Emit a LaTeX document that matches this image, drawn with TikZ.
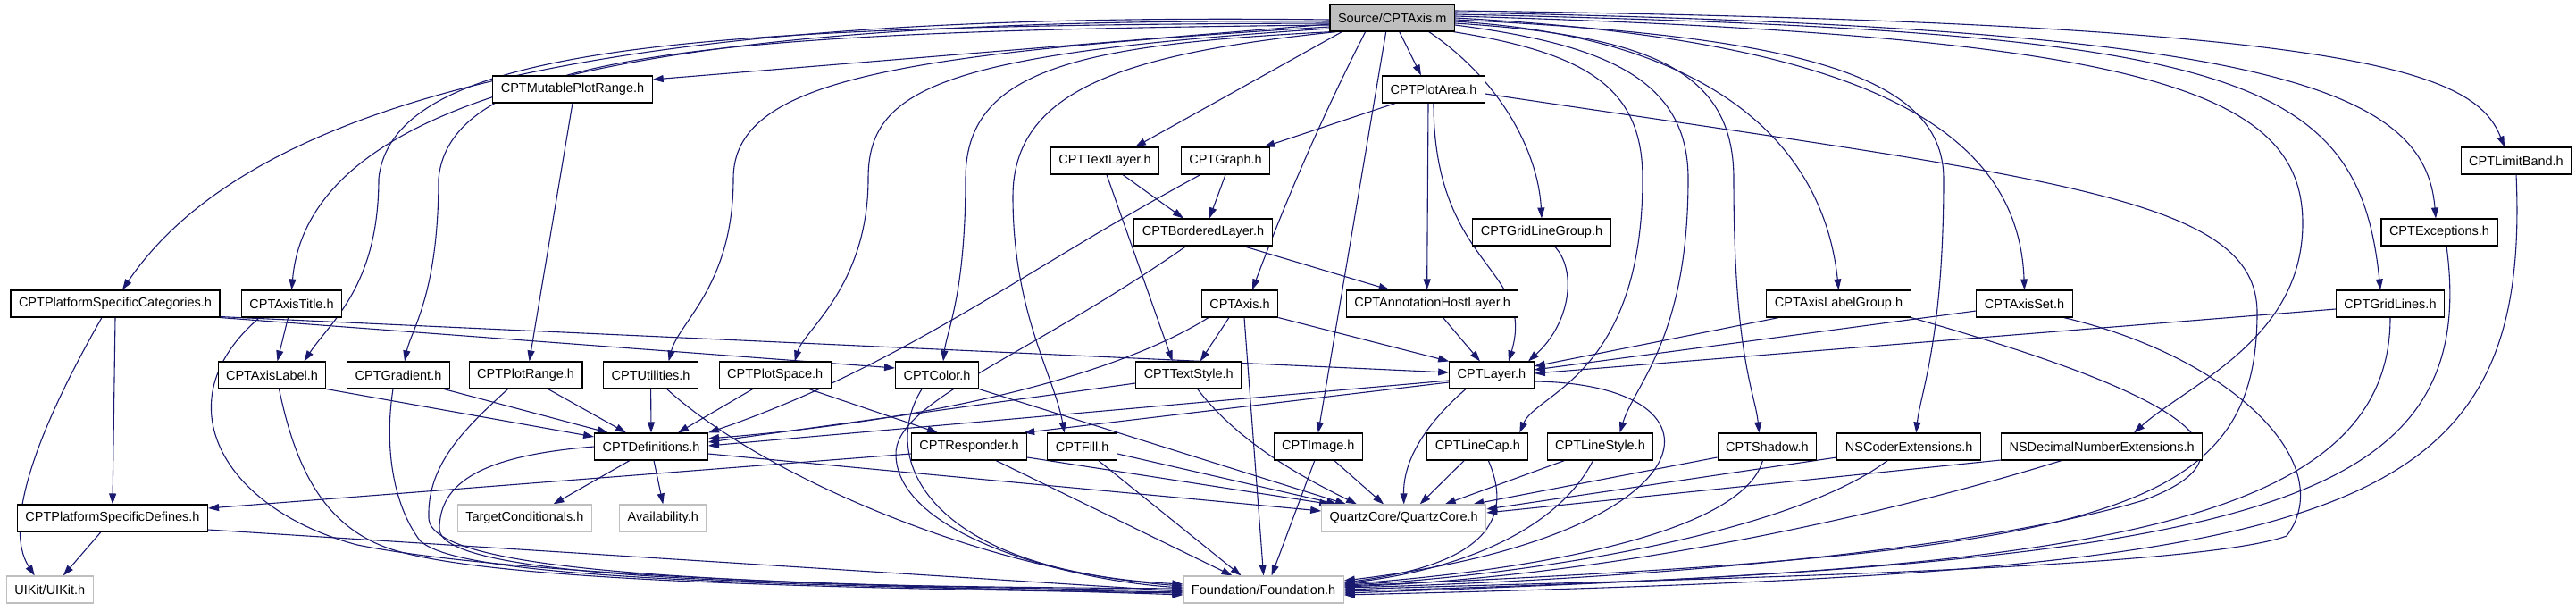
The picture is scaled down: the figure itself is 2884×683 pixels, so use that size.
\documentclass[tikz,border=0pt]{standalone}
\usepackage{fontspec}
\setmainfont{Liberation Sans}
\usetikzlibrary{arrows.meta}
\definecolor{edgeblue}{HTML}{191970}
\definecolor{srcgray}{HTML}{BFBFBF}
\pgfdeclarelayer{edges}
\pgfsetlayers{edges,main}
\tikzset{
  file/.style={draw=black, fill=white, line width=1.1pt, minimum height=30pt,
    inner xsep=9pt, inner ysep=0pt, font=\fontsize{14.5}{17}\selectfont},
  sysfile/.style={file, draw=srcgray},
  srcfile/.style={file, fill=srcgray},
  inc/.style={draw=edgeblue, line width=1.1pt, -{Triangle[length=12pt,width=8pt]}},
}
\begin{document}
\begin{tikzpicture}[x=1pt, y=-1pt]
\useasboundingbox (0,0) rectangle (2884,683);

\node[srcfile] (src) at (1558.7,20) {Source/CPTAxis.m};

\node[file] (mutrange) at (641,100) {CPTMutablePlotRange.h};
\node[file] (plotarea) at (1605,100) {CPTPlotArea.h};

\node[file] (textlayer) at (1237,180) {CPTTextLayer.h};
\node[file] (graph) at (1372,180) {CPTGraph.h};
\node[file] (limitband) at (2817,180) {CPTLimitBand.h};

\node[file] (bordered) at (1347,260) {CPTBorderedLayer.h};
\node[file] (gridlinegroup) at (1726,260) {CPTGridLineGroup.h};
\node[file] (exceptions) at (2731,260) {CPTExceptions.h};

\node[file] (platcat) at (129,340) {CPTPlatformSpecificCategories.h};
\node[file] (axistitle) at (326.5,340) {CPTAxisTitle.h};
\node[file] (axis) at (1388,340) {CPTAxis.h};
\node[file] (annot) at (1603.6,340) {CPTAnnotationHostLayer.h};
\node[file] (labelgroup) at (2058.5,340) {CPTAxisLabelGroup.h};
\node[file] (axisset) at (2266.5,340) {CPTAxisSet.h};
\node[file] (gridlines) at (2676,340) {CPTGridLines.h};

\node[file] (axislabel) at (304.5,420) {CPTAxisLabel.h};
\node[file] (gradient) at (446,420) {CPTGradient.h};
\node[file] (plotrange) at (588.6,420) {CPTPlotRange.h};
\node[file] (utilities) at (728.6,420) {CPTUtilities.h};
\node[file] (plotspace) at (867.7,420) {CPTPlotSpace.h};
\node[file] (color) at (1049,420) {CPTColor.h};
\node[file] (textstyle) at (1330.7,420) {CPTTextStyle.h};
\node[file] (layer) at (1670,420) {CPTLayer.h};

\node[file] (defs) at (729,500) {CPTDefinitions.h};
\node[file] (responder) at (1085,500) {CPTResponder.h};
\node[file] (fill) at (1211.7,500) {CPTFill.h};
\node[file] (image) at (1475.8,500) {CPTImage.h};
\node[file] (linecap) at (1654.3,500) {CPTLineCap.h};
\node[file] (linestyle) at (1791.5,500) {CPTLineStyle.h};
\node[file] (shadow) at (1978.4,500) {CPTShadow.h};
\node[file] (nscoder) at (2137.2,500) {NSCoderExtensions.h};
\node[file] (nsdecimal) at (2353.1,500) {NSDecimalNumberExtensions.h};

\node[file] (platdefs) at (126,580) {CPTPlatformSpecificDefines.h};
\node[sysfile] (target) at (587.4,580) {TargetConditionals.h};
\node[sysfile] (avail) at (742.3,580) {Availability.h};
\node[sysfile] (quartz) at (1571.7,580) {QuartzCore/QuartzCore.h};

\node[sysfile] (uikit) at (55.8,660) {UIKit/UIKit.h};
\node[sysfile] (foundation) at (1414.6,660) {Foundation/Foundation.h};

\begin{pgfonlayer}{edges}
% includes of the source file
\draw[inc] ([yshift=-2]src.west) .. controls (900,15) and (320,55) .. ([xshift=8]platcat.north);
\draw[inc] ([yshift=-4]src.west) .. controls (900,20) and (350,60) .. (axistitle.north);
\draw[inc] ([yshift=-6]src.west) .. controls (780,28) and (440,50) .. (424,200) .. controls (424,320) and (370,360) .. ([xshift=36]axislabel.north);
\draw[inc] ([yshift=-8]src.west) .. controls (820,35) and (505,55) .. (491,200) .. controls (491,330) and (460,370) .. ([xshift=7]gradient.north);
\draw[inc] ([yshift=-7]src.west) -- ([yshift=11]mutrange.east);
\draw[inc] ([yshift=-10]src.west) .. controls (1000,60) and (821,90) .. (821,200) .. controls (821,320) and (760,360) .. ([xshift=20]utilities.north);
\draw[inc] ([yshift=-12]src.west) .. controls (1050,60) and (972,100) .. (972,200) .. controls (972,320) and (900,370) .. ([xshift=22]plotspace.north);
\draw[inc] ([xshift=4]src.south west) .. controls (1200,50) and (1081,80) .. (1081,200) .. controls (1081,330) and (1060,370) .. ([xshift=7]color.north);
\draw[inc] ([xshift=8]src.south west) .. controls (1260,60) and (1134,100) .. (1134,220) .. controls (1134,350) and (1180,420) .. ([xshift=-20]fill.north);
\draw[inc] ([xshift=14]src.south west) -- ([xshift=34]textlayer.north);
\draw[inc] ([xshift=-30]src.south) .. controls (1470,150) and (1430,250) .. ([xshift=14]axis.north);
\draw[inc] ([xshift=-7]src.south) -- (image.north);
\draw[inc] ([xshift=8]src.south) -- ([xshift=-14]plotarea.north);
\draw[inc] ([xshift=41]src.south) .. controls (1680,90) and (1722,170) .. (gridlinegroup.north);
\draw[inc] ([xshift=-2]src.south east) .. controls (1780,60) and (1839,100) .. (1839,200) .. controls (1839,420) and (1720,440) .. ([xshift=47]linecap.north);
\draw[inc] ([yshift=-8]src.east) .. controls (1800,50) and (1890,90) .. (1890,200) .. controls (1890,380) and (1830,430) .. ([xshift=22]linestyle.north);
\draw[inc] ([yshift=-6]src.east) .. controls (1850,40) and (1941,80) .. (1941,200) .. controls (1941,400) and (1965,440) .. ([xshift=-9]shadow.north);
\draw[inc] ([yshift=-4]src.east) .. controls (1900,40) and (2040,150) .. (labelgroup.north);
\draw[inc] ([yshift=-2]src.east) .. controls (2000,40) and (2176,80) .. (2176,200) .. controls (2176,380) and (2150,440) .. ([xshift=8]nscoder.north);
\draw[inc] (src.east) .. controls (2100,45) and (2260,150) .. (axisset.north);
\draw[inc] ([yshift=2]src.east) .. controls (2400,40) and (2578,100) .. (2578,250) .. controls (2578,380) and (2450,430) .. ([xshift=36]nsdecimal.north);
\draw[inc] ([yshift=4]src.east) .. controls (2500,35) and (2640,80) .. ([xshift=-11]gridlines.north);
\draw[inc] ([yshift=6]src.east) .. controls (2550,30) and (2715,100) .. ([xshift=-4]exceptions.north);
\draw[inc] ([yshift=8]src.east) .. controls (2650,25) and (2770,80) .. ([xshift=-13]limitband.north);

% headers
\draw[inc] (mutrange.south) -- ([xshift=4]plotrange.north);
\draw[inc] ([xshift=15]plotarea.south west) -- ([xshift=-7]graph.north east);
\draw[inc] ([xshift=-6]plotarea.south) -- ([xshift=-6]annot.north);
\draw[inc] (plotarea.south) .. controls (1605,300) and (1720,300) .. ([xshift=19]layer.north);
\draw[inc] ([yshift=-5]plotarea.east) .. controls (2300,200) and (2527,220) .. (2527,350) .. controls (2527,580) and (2350,620) .. ([yshift=4]foundation.east);
\draw[inc] ([xshift=20]textlayer.south) -- ([xshift=-22]bordered.north);
\draw[inc] ([xshift=2]textlayer.south) -- ([xshift=-18]textstyle.north);
\draw[inc] (graph.south) -- ([xshift=7]bordered.north);
\draw[inc] ([xshift=-28]graph.south) .. controls (1150,300) and (1010,410) .. (defs.north east);
\draw[inc] ([xshift=45]bordered.south) -- ([xshift=-48]annot.north);
\draw[inc] ([xshift=-19]bordered.south) .. controls (1150,400) and (1000,450) .. (1003,510) .. controls (1006,600) and (1200,650) .. ([yshift=2]foundation.west);
\draw[inc] ([xshift=14]gridlinegroup.south) .. controls (1765,300) and (1760,360) .. ([xshift=41]layer.north);
\draw[inc] ([xshift=-12]axis.south) -- ([xshift=13]textstyle.north);
\draw[inc] (axis.south east) -- (layer.north west);
\draw[inc] ([xshift=5]axis.south) -- (foundation.north);
\draw[inc] ([xshift=-35]axis.south) .. controls (1250,420) and (1050,470) .. ([yshift=9]defs.east);
\draw[inc] ([xshift=12]annot.south) -- ([xshift=-13]layer.north);
\draw[inc] ([xshift=14]labelgroup.south west) -- ([yshift=10]layer.east);
\draw[inc] ([yshift=-8]axisset.west) -- ([yshift=6]layer.east);
\draw[inc] ([yshift=-6]gridlines.west) -- ([yshift=2]layer.east);
\draw[inc] (labelgroup.south east) .. controls (2400,430) and (2560,500) .. (2400,560) .. controls (2200,620) and (1800,650) .. ([yshift=2]foundation.east);
\draw[inc] ([xshift=44]axisset.south) .. controls (2500,400) and (2620,520) .. (2560,600) .. controls (2450,640) and (1800,650) .. (foundation.east);
\draw[inc] (gridlines.south) .. controls (2676,600) and (2300,640) .. ([yshift=-2]foundation.east);
\draw[inc] ([xshift=8]exceptions.south) .. controls (2780,580) and (2500,630) .. ([yshift=-4]foundation.east);
\draw[inc] (limitband.south) .. controls (2835,600) and (2600,640) .. ([yshift=-6]foundation.east);

\draw[inc] (platcat.south east) -- ([yshift=8]color.west);
\draw[inc] ([yshift=1]platcat.south east) -- ([yshift=3]layer.west);
\draw[inc] ([xshift=-15]platcat.south) .. controls (20,520) and (10,600) .. ([xshift=-17]uikit.north);
\draw[inc] (platcat.south) -- (platdefs.north);
\draw[inc] ([xshift=-13]platdefs.south) -- ([xshift=15]uikit.north);
\draw[inc] ([yshift=-13]platdefs.east) -- ([yshift=-2]foundation.west);
\draw[inc] ([yshift=-8]responder.west) -- ([yshift=11]platdefs.east);
\draw[inc] ([xshift=-36]axistitle.south) .. controls (180,450) and (250,570) .. (400,610) .. controls (600,650) and (1100,658) .. ([yshift=-6]foundation.west);
\draw[inc] ([xshift=-4]axistitle.south) -- ([xshift=6]axislabel.north);
\draw[inc] (axislabel.south east) -- ([yshift=11]defs.west);
\draw[inc] ([xshift=8]axislabel.south) .. controls (330,520) and (360,585) .. (430,612) .. controls (530,650) and (900,658) .. ([yshift=-4]foundation.west);
\draw[inc] ([xshift=51]gradient.south) -- ([xshift=-48]defs.north);
\draw[inc] ([xshift=-6]gradient.south) .. controls (430,500) and (440,565) .. (470,605) .. controls (510,645) and (800,655) .. ([yshift=-3]foundation.west);
\draw[inc] ([xshift=25]plotrange.south) -- ([xshift=-28]defs.north);
\draw[inc] ([xshift=-20]plotrange.south) .. controls (520,480) and (478,520) .. (480,580) .. controls (482,640) and (800,655) .. ([yshift=-1]foundation.west);
\draw[inc] (utilities.south) -- (defs.north);
\draw[inc] ([xshift=18]utilities.south) .. controls (850,530) and (1100,640) .. ([yshift=4]foundation.west);
\draw[inc] ([xshift=-25]plotspace.south) -- ([xshift=30]defs.north);
\draw[inc] ([xshift=38]plotspace.south) -- ([xshift=-35]responder.north);
\draw[inc] ([xshift=-24]defs.south) -- ([xshift=32]target.north);
\draw[inc] ([xshift=3]defs.south) -- (avail.north);
\draw[inc] (defs.west) .. controls (540,510) and (492,540) .. (492,592) .. controls (492,650) and (900,656) .. ([yshift=1]foundation.west);
\draw[inc] ([yshift=-8]defs.east) -- ([yshift=8]quartz.west);
\draw[inc] ([xshift=-17]color.south) .. controls (980,520) and (1050,640) .. ([yshift=6]foundation.west);
\draw[inc] (color.south east) -- ([xshift=28]quartz.north west);
\draw[inc] ([yshift=-9]textstyle.west) -- ([yshift=5]defs.east);
\draw[inc] ([xshift=10]textstyle.south) .. controls (1390,500) and (1470,540) .. ([xshift=40]quartz.north west);
\draw[inc] ([yshift=-6]layer.west) -- ([yshift=1]defs.east);
\draw[inc] ([yshift=-8]layer.west) -- ([xshift=-4]responder.north east);
\draw[inc] ([xshift=-29]layer.south) .. controls (1590,480) and (1571,520) .. (quartz.north);
\draw[inc] ([yshift=-7]layer.east) .. controls (1950,430) and (1920,600) .. ([yshift=10]foundation.east);

\draw[inc] ([yshift=-12]responder.east) -- ([xshift=10]quartz.north west);
\draw[inc] ([xshift=30]responder.south) -- ([xshift=-35]foundation.north);
\draw[inc] ([yshift=-8]fill.east) -- ([xshift=18]quartz.north west);
\draw[inc] ([xshift=18]fill.south) -- ([xshift=-25]foundation.north);
\draw[inc] ([xshift=18]image.south) -- ([xshift=70]quartz.north west);
\draw[inc] ([xshift=-4]image.south) -- ([xshift=9]foundation.north);
\draw[inc] ([xshift=-15]linecap.south) -- ([xshift=18]quartz.north);
\draw[inc] ([xshift=12]linecap.south) .. controls (1690,570) and (1680,630) .. ([yshift=8]foundation.east);
\draw[inc] ([xshift=-40]linestyle.south) -- ([xshift=46]quartz.north);
\draw[inc] ([xshift=-8]linestyle.south) .. controls (1740,600) and (1620,640) .. ([yshift=7]foundation.east);
\draw[inc] ([yshift=-12]shadow.west) -- ([xshift=-15]quartz.north east);
\draw[inc] ([xshift=-5]shadow.south) .. controls (1950,600) and (1700,640) .. ([yshift=6]foundation.east);
\draw[inc] ([yshift=-12]nscoder.west) -- ([yshift=10]quartz.east);
\draw[inc] ([xshift=-24]nscoder.south) .. controls (2000,600) and (1700,645) .. ([yshift=5]foundation.east);
\draw[inc] ([yshift=-15]nsdecimal.west) -- ([yshift=6]quartz.east);
\draw[inc] ([xshift=-45]nsdecimal.south) .. controls (2100,580) and (1800,645) .. ([yshift=3]foundation.east);
\end{pgfonlayer}
\end{tikzpicture}
\end{document}
